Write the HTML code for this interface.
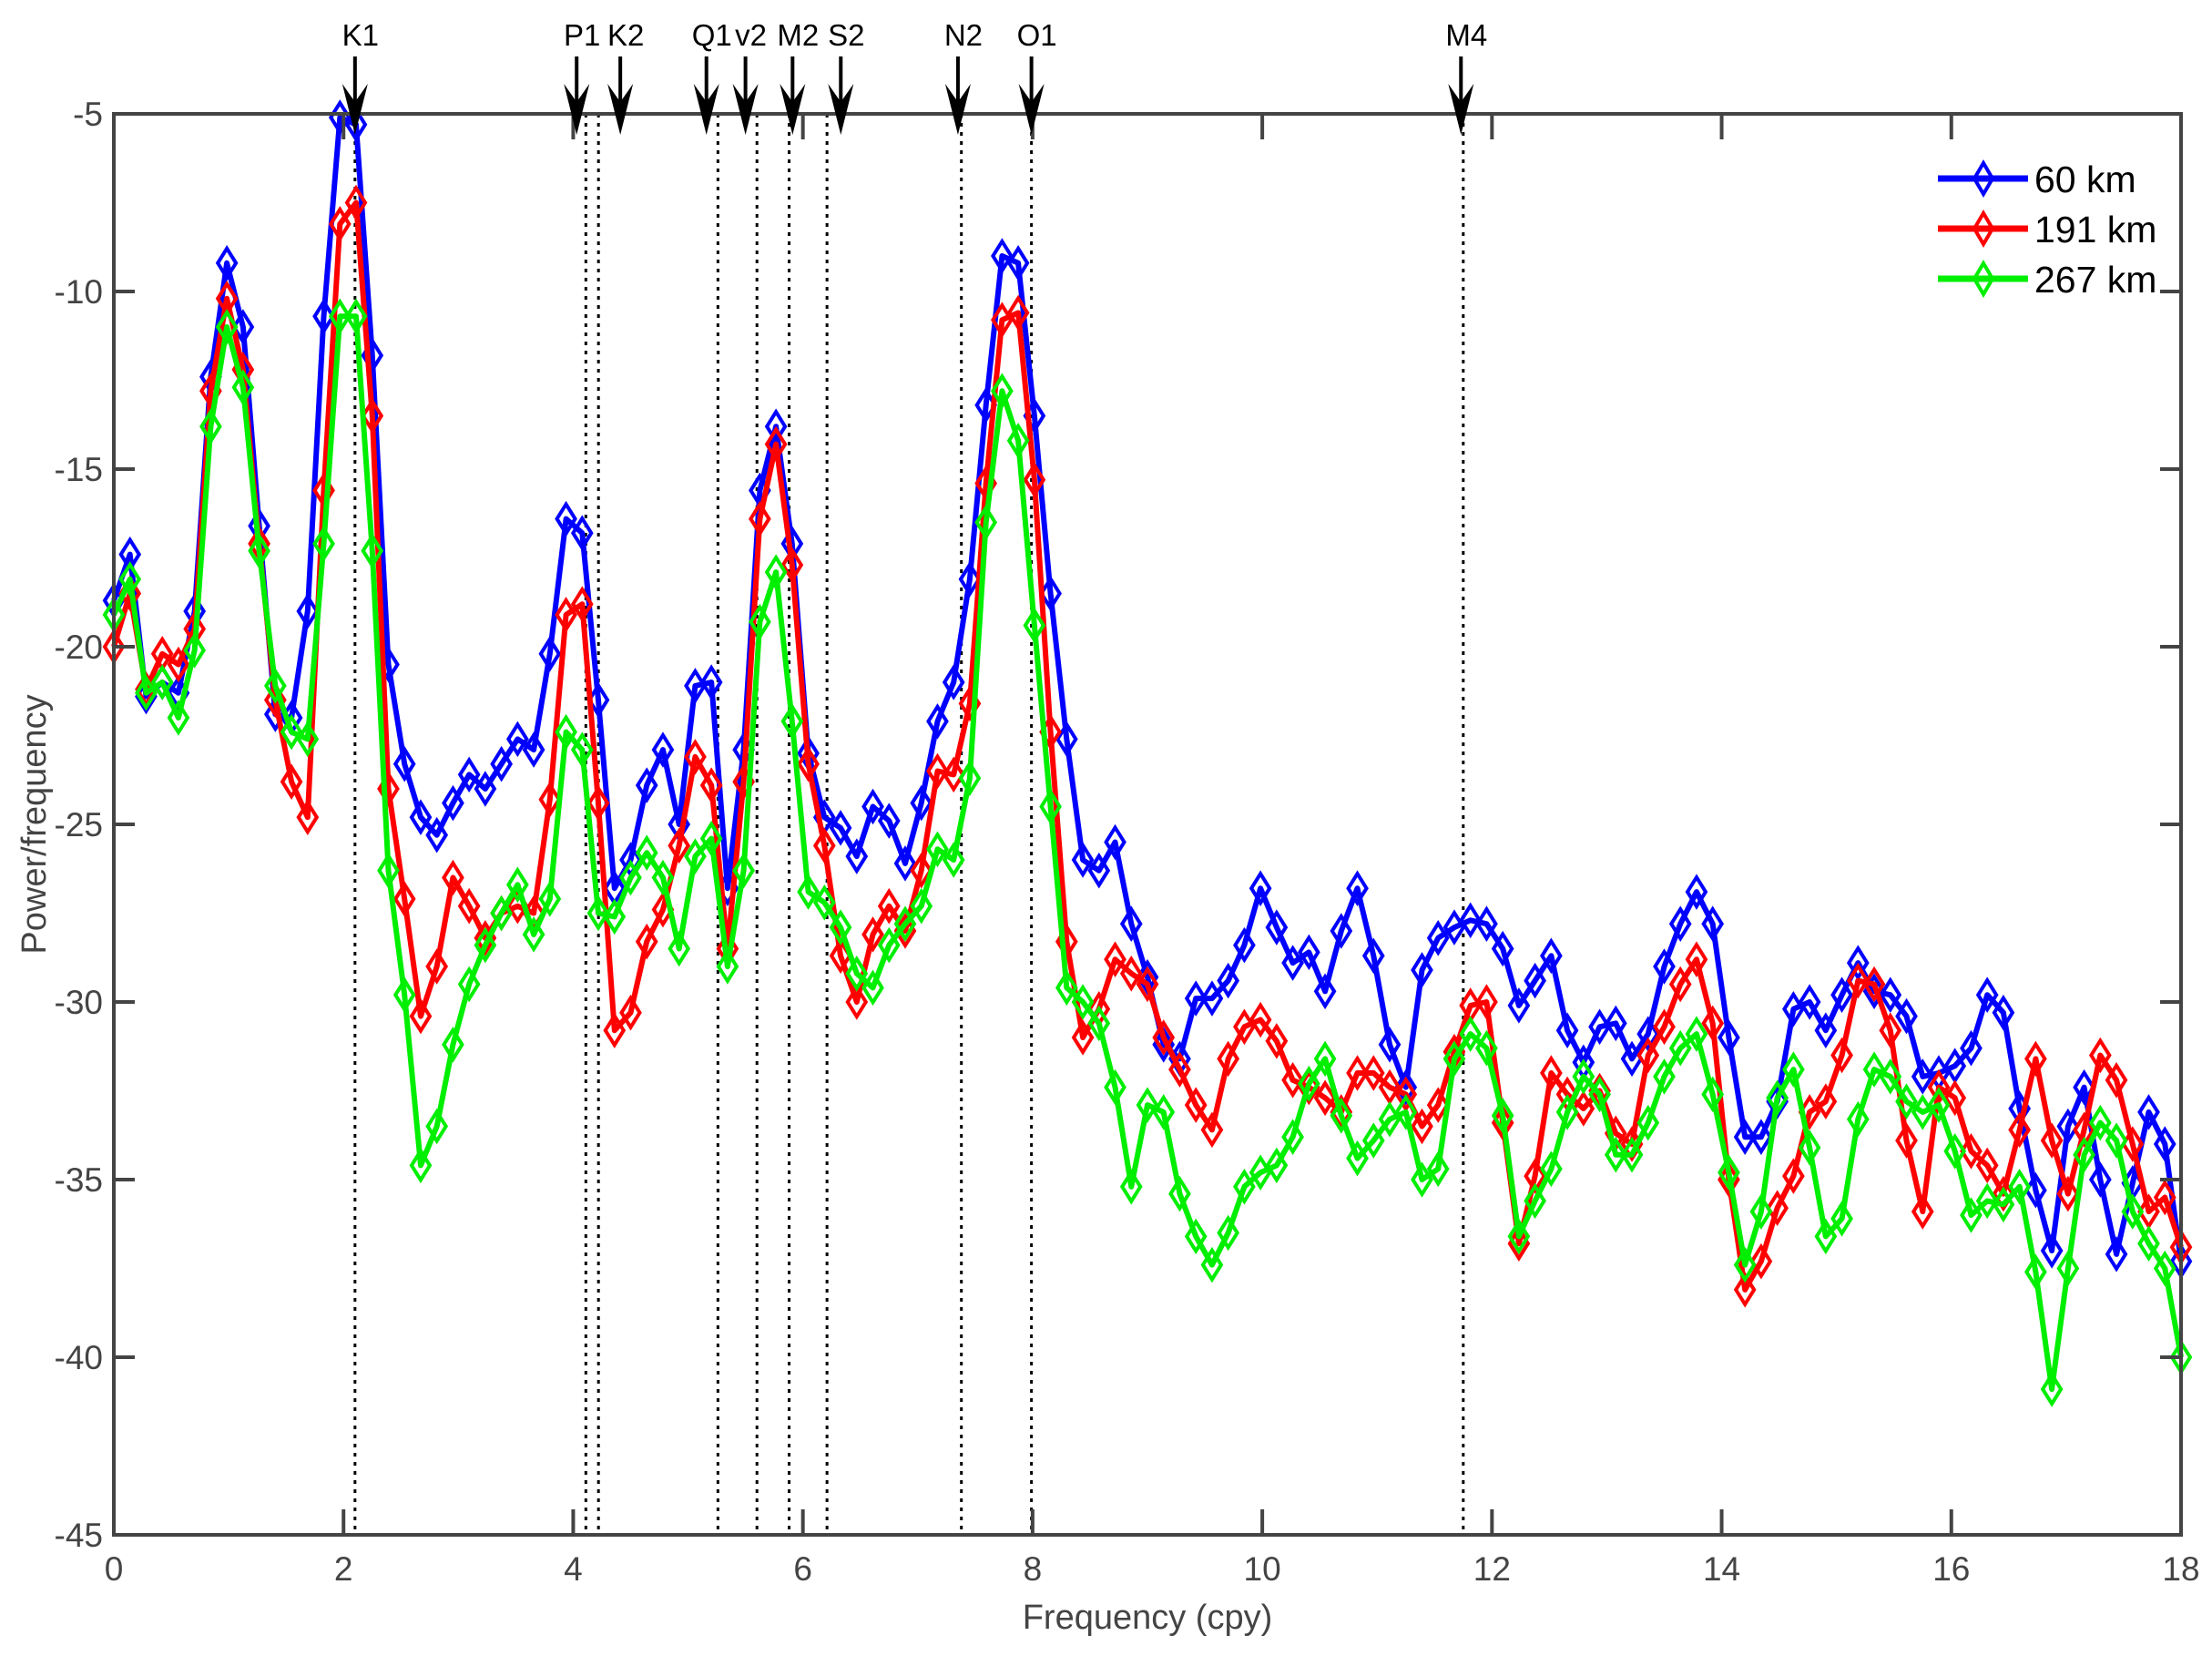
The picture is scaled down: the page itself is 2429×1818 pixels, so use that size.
<!DOCTYPE html>
<html><head><meta charset="utf-8">
<style>
html,body{margin:0;padding:0;background:#fff;}
svg{display:block;font-family:"Liberation Sans",Arial,sans-serif;}
</style></head>
<body>
<svg id="chart" width="2429" height="1818" viewBox="0 0 2429 1818" xmlns="http://www.w3.org/2000/svg">
<rect width="2429" height="1818" fill="#fff"/>
<g id="grid-lines"></g>
<g id="series"></g>
<g id="axes"></g>
<g id="arrows"></g>
<g id="legend"></g>
<text x="1260" y="1788" font-size="38" fill="#444" text-anchor="middle">Frequency (cpy)</text>
<text x="0" y="0" font-size="38" fill="#444" text-anchor="middle" transform="translate(50,905) rotate(-90)">Power/frequency</text>
</svg>
<script>
const seriesNames = ["60 km","191 km","267 km"];
const seriesColors = ["#0000ff","#ff0000","#00ee00"];
const freqStep = 0.140625;
const blueValues = [-18.7,-17.4,-21.4,-21.0,-21.3,-19.0,-12.4,-9.2,-11.0,-16.6,-21.9,-22.0,-19.0,-10.7,-5.1,-5.3,-11.8,-20.5,-23.3,-24.8,-25.3,-24.4,-23.6,-24.0,-23.3,-22.6,-22.9,-20.2,-16.4,-16.8,-21.5,-26.8,-26.0,-23.9,-22.9,-25.0,-21.1,-21.0,-26.8,-22.9,-15.6,-13.8,-17.1,-23.0,-24.8,-25.1,-25.9,-24.5,-24.9,-26.1,-24.4,-22.1,-21.0,-18.1,-13.2,-9.0,-9.2,-13.5,-18.5,-22.6,-26.0,-26.3,-25.5,-27.8,-29.3,-31.2,-31.6,-29.9,-29.9,-29.4,-28.4,-26.8,-27.9,-28.9,-28.6,-29.7,-28.0,-26.8,-28.7,-31.2,-32.4,-29.1,-28.2,-27.9,-27.7,-27.8,-28.5,-30.1,-29.4,-28.7,-30.8,-31.7,-30.7,-30.6,-31.6,-30.9,-29.0,-27.8,-26.9,-27.8,-31.0,-33.8,-33.8,-32.8,-30.2,-30.0,-30.8,-29.8,-28.9,-29.7,-29.8,-30.4,-32.1,-32.0,-31.8,-31.3,-29.8,-30.3,-33.0,-35.3,-37.0,-33.5,-32.4,-35.0,-37.1,-35.1,-33.1,-34.0,-37.3];
const redValues = [-20.0,-18.5,-21.2,-20.2,-20.5,-19.5,-12.8,-10.2,-12.2,-17.1,-21.5,-23.8,-24.8,-15.6,-8.1,-7.5,-13.5,-24.0,-27.1,-30.4,-29.0,-26.5,-27.3,-28.2,-27.5,-27.3,-27.5,-24.3,-19.1,-18.8,-24.4,-30.8,-30.3,-28.3,-27.4,-25.6,-23.1,-23.9,-28.5,-23.8,-16.4,-14.3,-17.7,-23.3,-25.6,-28.7,-30.0,-28.1,-27.3,-28.0,-26.3,-23.5,-23.6,-21.6,-15.4,-10.8,-10.6,-15.3,-22.4,-28.3,-31.0,-30.2,-28.8,-29.2,-29.5,-31.0,-31.9,-32.9,-33.6,-31.6,-30.7,-30.5,-31.1,-32.2,-32.4,-32.7,-33.1,-32.0,-32.0,-32.4,-32.6,-33.5,-32.9,-31.4,-30.1,-30.0,-33.4,-36.8,-34.9,-32.0,-32.6,-33.0,-32.5,-33.7,-34.0,-31.5,-30.7,-29.5,-28.8,-30.6,-35.0,-38.1,-37.3,-35.8,-34.9,-33.1,-32.8,-31.5,-29.4,-29.5,-30.8,-33.9,-35.9,-32.4,-32.7,-34.2,-34.6,-35.4,-33.6,-31.6,-33.9,-35.4,-33.6,-31.5,-32.2,-34.0,-35.9,-35.5,-36.9];
const greenValues = [-19.1,-18.1,-21.3,-21.0,-22.0,-20.1,-13.8,-11.0,-12.7,-17.3,-21.1,-22.4,-22.6,-17.1,-10.7,-10.7,-17.3,-26.3,-29.8,-34.6,-33.5,-31.2,-29.5,-28.4,-27.5,-26.7,-28.1,-27.1,-22.4,-22.9,-27.5,-27.6,-26.5,-25.8,-26.5,-28.5,-25.9,-25.4,-29.0,-26.3,-19.3,-17.9,-22.1,-26.9,-27.2,-27.9,-29.2,-29.6,-28.4,-27.8,-27.3,-25.7,-26.0,-23.7,-16.5,-12.8,-14.2,-19.4,-24.5,-29.6,-30.0,-30.6,-32.4,-35.2,-32.9,-33.1,-35.4,-36.6,-37.4,-36.5,-35.2,-34.8,-34.6,-33.8,-32.3,-31.6,-33.2,-34.4,-33.9,-33.3,-33.1,-35.0,-34.7,-31.6,-30.9,-31.3,-33.2,-36.6,-35.6,-34.7,-33.1,-32.1,-32.6,-34.3,-34.3,-33.4,-32.1,-31.3,-30.9,-32.6,-34.8,-37.4,-35.9,-32.7,-31.9,-34.1,-36.6,-36.1,-33.3,-31.9,-32.1,-32.8,-33.1,-32.9,-34.2,-36.0,-35.6,-35.7,-35.2,-37.6,-40.9,-37.5,-34.3,-33.4,-33.9,-35.9,-36.8,-37.5,-40.0];
const xTicks = [0,2,4,6,8,10,12,14,16,18];
const yTicks = [-5,-10,-15,-20,-25,-30,-35,-40,-45];
const lineFreqs = [2.10,4.11,4.22,5.26,5.60,5.88,6.21,7.38,7.99,11.75];
const arrowLabels = ["K1","P1","K2","Q1","v2","M2","S2","N2","O1","M4"];
const arrowFreqs = [2.10,4.03,4.41,5.16,5.50,5.91,6.33,7.35,7.99,11.73];

const L=125,R=2395,T=125,B=1685,xMin=0,xMax=18,yMin=-45,yMax=-5;
const NS="http://www.w3.org/2000/svg";
function X(f){return L+(f-xMin)/(xMax-xMin)*(R-L);}
function Y(v){return T+(yMax-v)/(yMax-yMin)*(B-T);}
function mk(tag,attrs,parent){const e=document.createElementNS(NS,tag);for(const k in attrs)e.setAttribute(k,attrs[k]);parent.appendChild(e);return e;}
const gl=document.getElementById('grid-lines');
lineFreqs.forEach((f,i)=>{
  const l=mk('line',{x1:X(f),x2:X(f),y1:T,y2:B-0.5*0+0,stroke:'#000','stroke-width':3,'stroke-dasharray':'4 6'},gl);
  l.setAttribute('y2', Y(-45));
  
  
});
const sg=document.getElementById('series');
[blueValues,redValues,greenValues].forEach((vals,s)=>{
  const g=mk('g',{},sg);
  
  
  const pts=vals.map((v,i)=>X(i*freqStep).toFixed(1)+','+Y(v).toFixed(1)).join(' ');
  const pl=mk('polyline',{points:pts,fill:'none',stroke:seriesColors[s],'stroke-width':6,'stroke-linejoin':'round'},g);
  
  
  vals.forEach((v,i)=>{
    const x=X(i*freqStep),y=Y(v);
    const d=mk('path',{d:`M${x},${y-16}L${x+10},${y}L${x},${y+16}L${x-10},${y}Z`,fill:'none',stroke:seriesColors[s],'stroke-width':4},g);
    
    
  });
});
const ax=document.getElementById('axes');
const box=mk('rect',{x:L,y:T,width:R-L,height:B-T,fill:'none',stroke:'#444','stroke-width':4},ax);


xTicks.forEach(t=>{
  const x=X(t);
  mk('line',{x1:x,x2:x,y1:B,y2:B-28,stroke:'#444','stroke-width':4},ax);
  mk('line',{x1:x,x2:x,y1:T,y2:T+28,stroke:'#444','stroke-width':4},ax);
  const tx=mk('text',{x:x,y:B+50,'font-size':37,fill:'#444','text-anchor':'middle'},ax);
  tx.textContent=t;
  
  
});
yTicks.forEach(t=>{
  const y=Y(t);
  mk('line',{x1:L,x2:L+23,y1:y,y2:y,stroke:'#444','stroke-width':4},ax);
  mk('line',{x1:R,x2:R-23,y1:y,y2:y,stroke:'#444','stroke-width':4},ax);
  const tx=mk('text',{x:L-12,y:y+13,'font-size':37,fill:'#444','text-anchor':'end'},ax);
  tx.textContent=t;
  
  
});
const ag=document.getElementById('arrows');
arrowFreqs.forEach((f,i)=>{
  const x=X(f);
  const g=mk('g',{},ag);
  
  
  mk('line',{x1:x,x2:x,y1:62,y2:115,stroke:'#000','stroke-width':4},g);
  mk('path',{d:`M${x-14},${92}L${x},${148}L${x+14},${92}L${x},${112}Z`,fill:'#000'},g);
  const tx=mk('text',{x:x+6,y:50,'font-size':33,fill:'#000','text-anchor':'middle'},g);
  tx.textContent=arrowLabels[i];
});
const lg=document.getElementById('legend');
seriesNames.forEach((n,i)=>{
  const y=196+i*55;
  const g=mk('g',{},lg);
  
  
  mk('line',{x1:2128,x2:2227,y1:y,y2:y,stroke:seriesColors[i],'stroke-width':7},g);
  mk('path',{d:`M2178,${y-17}L2188,${y}L2178,${y+17}L2168,${y}Z`,fill:'none',stroke:seriesColors[i],'stroke-width':4},g);
  const tx=mk('text',{x:2234,y:y+15,'font-size':41,fill:'#000'},g);
  tx.textContent=n;
});
</script>
</body></html>
